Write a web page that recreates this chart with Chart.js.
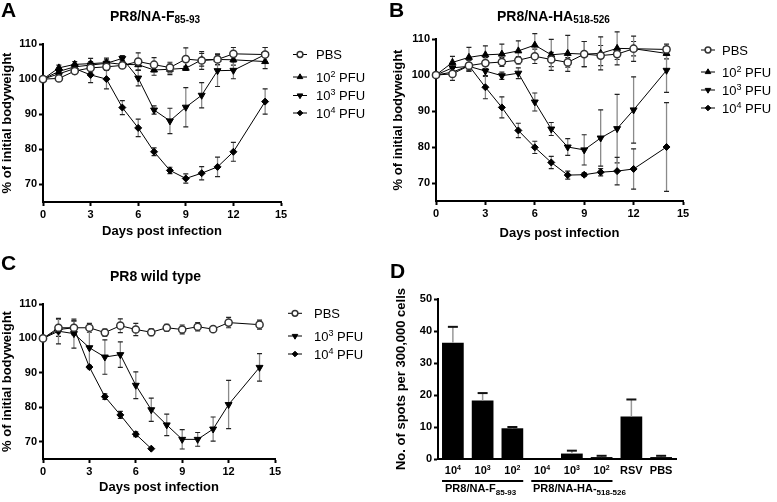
<!DOCTYPE html>
<html>
<head>
<meta charset="utf-8">
<script src="https://cdn.jsdelivr.net/npm/chart.js@4.4.0/dist/chart.umd.min.js"></script>
<style>
    body { margin: 0; background: #fff; }
    #wrap { position: relative; width: 777px; height: 502px; overflow: hidden; font-family: 'Liberation Sans', Arial, sans-serif; color: #000; }
    .panel { position: absolute; }
    .letter { position: absolute; font-size: 21px; font-weight: bold; line-height: 21px; }
    .title { position: absolute; font-size: 14px; font-weight: bold; line-height: 14px; white-space: nowrap; }
    .title sub { font-size: 10px; vertical-align: -2px; line-height: 0; }
    .group { position: absolute; font-size: 11px; font-weight: bold; line-height: 11px; white-space: nowrap; }
    .group sub { font-size: 8px; vertical-align: -3px; line-height: 0; }
</style>
</head>
<body>
<div id="wrap">
    <div class="panel" style="left:0;top:0;"><canvas id="chartA" width="388" height="250"></canvas></div>
    <div class="panel" style="left:388px;top:0;"><canvas id="chartB" width="389" height="250"></canvas></div>
    <div class="panel" style="left:0;top:250px;"><canvas id="chartC" width="388" height="252"></canvas></div>
    <div class="panel" style="left:388px;top:250px;"><canvas id="chartD" width="389" height="252"></canvas></div>

    <div class="letter" style="left:1px;top:-1px;">A</div>
    <div class="letter" style="left:389px;top:-1px;">B</div>
    <div class="letter" style="left:1px;top:252px;">C</div>
    <div class="letter" style="left:390px;top:260px;">D</div>

    <div class="title" style="left:110px;top:9px;">PR8/NA-F<sub>85-93</sub></div>
    <div class="title" style="left:497px;top:9px;">PR8/NA-HA<sub>518-526</sub></div>
    <div class="title" style="left:110px;top:269px;">PR8 wild type</div>

    <div class="group" style="left:445px;top:483px;">PR8/NA-F<sub>85-93</sub></div>
    <div class="group" style="left:533px;top:483px;">PR8/NA-HA-<sub>518-526</sub></div>
</div>

<script>
    Chart.defaults.font.family = "'Liberation Sans', Arial, sans-serif";
    Chart.defaults.color = '#000';

    // dagen na infectie
    const days = [0, 1, 2, 3, 4, 5, 6, 7, 8, 9, 10, 11, 12, 14];
    const xTicks = [0, 3, 6, 9, 12, 15];
    const yTicks = [70, 80, 90, 100, 110];

    // A: PR8/NA-F85-93
    const aPBS = [100, 100.2, 102.3, 103.2, 103.5, 103.9, 105.0, 104.1, 103.3, 105.7, 105.3, 105.6, 107.2, 107.0];
    const aPBSErr = [0, 0.8, 0.8, 1.2, 1.0, 0.6, 2.5, 2.0, 1.5, 3.2, 2.5, 1.5, 1.8, 2.0];
    const a102 = [100, 103.2, 104.2, 104.4, 104.7, 104.2, 104.1, 102.6, 102.8, 103.1, 105.5, 105.6, 105.5, 105.0];
    const a102Err = [0, 0.8, 0.8, 1.5, 1.3, 1.0, 1.5, 1.5, 1.5, 0.5, 1.8, 1.5, 1.5, 2.0];
    const a103 = [100, 102.2, 103.5, 104.0, 104.5, 105.9, 100.3, 91.2, 88.1, 92.0, 95.4, 102.4, 102.5, 107.0];
    const a103Err = [0, 1.0, 0.8, 1.0, 1.0, 0.8, 2.2, 1.2, 3.6, 5.6, 3.6, 4.5, 2.4, 2.0];
    const a104 = [100, 101.5, 103.0, 101.2, 100.0, 91.9, 86.1, 79.3, 74.0, 71.7, 73.2, 75.0, 79.3, 93.6];
    const a104Err = [0, 1.0, 1.0, 2.2, 2.8, 2.0, 2.5, 1.1, 0.9, 1.3, 1.9, 2.8, 2.7, 3.6];

    // B: PR8/NA-HA518-526
    const bPBS = [100, 100.3, 102.6, 103.3, 103.6, 104.1, 105.2, 104.3, 103.5, 105.8, 105.4, 105.8, 107.3, 107.1];
    const bPBSErr = [0, 1.8, 1.5, 1.5, 1.2, 1.0, 2.0, 2.0, 1.3, 3.5, 2.8, 1.5, 2.0, 1.5];
    const b102 = [100, 103.5, 104.9, 105.6, 105.8, 106.7, 108.3, 105.6, 106.0, 105.8, 106.0, 107.4, 107.3, 106.0];
    const b102Err = [0, 1.7, 2.8, 2.5, 2.8, 2.8, 3.2, 4.3, 5.0, 3.5, 4.6, 4.6, 3.5, 1.5];
    const b103 = [100, 102.0, 102.4, 101.1, 99.8, 100.5, 92.5, 85.0, 80.0, 79.2, 82.5, 85.1, 90.3, 101.3];
    const b103Err = [0, 1.0, 1.0, 1.5, 1.0, 1.5, 2.5, 1.8, 2.3, 4.2, 7.8, 9.5, 9.2, 6.1];
    const b104 = [100, 100.8, 102.6, 96.6, 91.0, 84.6, 79.9, 75.7, 72.2, 72.3, 73.0, 73.3, 73.9, 80.0];
    const b104Err = [0, 1.2, 1.5, 3.2, 2.9, 2.0, 1.7, 1.7, 1.1, 0.5, 1.0, 3.8, 5.6, 12.3];

    // C: PR8 wild type
    const cPBS = [100, 103.1, 103.1, 103.1, 101.7, 103.7, 102.6, 101.8, 103.1, 102.6, 103.4, 102.7, 104.6, 104.0];
    const cPBSErr = [0, 2.5, 2.0, 1.3, 1.0, 2.0, 1.8, 1.0, 1.0, 1.3, 1.2, 0.5, 1.5, 1.3];
    const c103 = [100, 102.1, 101.4, 97.3, 94.6, 95.3, 86.4, 79.3, 74.9, 70.7, 70.7, 73.7, 80.8, 91.6];
    const c103Err = [0, 3.7, 4.2, 5.3, 5.0, 3.7, 3.9, 3.4, 3.1, 2.8, 2.0, 3.5, 7.0, 4.0];
    const c104 = [100, 102.6, 103.1, 91.7, 83.1, 77.8, 72.2, 68.0];
    const c104Err = [0, 1.0, 2.0, 0.5, 0.8, 1.0, 0.7, 0];

    // D: ELISPOT
    const spotLabels = ['10⁴', '10³', '10²', '10⁴', '10³', '10²', 'RSV', 'PBS'];
    const spotValues = [36.3, 18.3, 9.6, 0, 1.7, 0.6, 13.3, 0.6];
    const spotErrors = [5.0, 2.3, 0.4, 0, 0.9, 0.4, 5.3, 0.4];
    const spotTicks = [0, 10, 20, 30, 40, 50];
    const spotGroups = [[0, 2], [3, 5]];

    const markers = {
        'PBS': { pointStyle: 'circle', rotation: 0, radius: 3.6, bg: '#fff', border: '#333', bw: 1.5 },
        '10² PFU': { pointStyle: 'triangle', rotation: 0, radius: 4, bg: '#000', border: '#000', bw: 1 },
        '10³ PFU': { pointStyle: 'triangle', rotation: 180, radius: 4, bg: '#000', border: '#000', bw: 1 },
        '10⁴ PFU': { pointStyle: 'rectRot', rotation: 0, radius: 3.5, bg: '#000', border: '#000', bw: 1 }
    };

    const FONT = "'Liberation Sans', Arial, sans-serif";
    const supMap = { '²': '2', '³': '3', '⁴': '4' };

    //tekst met superscript tekenen
    function drawRich(ctx, text, x, y, size, weight, align) {
        let runs = [];
        for (const ch of text) {
            let sup = supMap[ch] !== undefined;
            let c = sup ? supMap[ch] : ch;
            if (runs.length && runs[runs.length - 1].sup === sup) runs[runs.length - 1].t += c;
            else runs.push({ t: c, sup: sup });
        }
        let fontFor = sup => weight + ' ' + (sup ? Math.round(size * 0.68) : size) + 'px ' + FONT;
        let total = 0;
        runs.forEach(r => { ctx.font = fontFor(r.sup); r.w = ctx.measureText(r.t).width; total += r.w; });
        let cx = align === 'center' ? x - total / 2 : x;
        ctx.textAlign = 'left';
        ctx.textBaseline = 'alphabetic';
        ctx.fillStyle = '#000';
        runs.forEach(r => {
            ctx.font = fontFor(r.sup);
            ctx.fillText(r.t, cx, r.sup ? y - size * 0.4 : y);
            cx += r.w;
        });
    }

    function ownPoint(ctx, m, x, y, radius) {
        ctx.fillStyle = m.bg;
        ctx.strokeStyle = m.border;
        ctx.lineWidth = m.bw;
        if (Chart.helpers && Chart.helpers.drawPoint) {
            Chart.helpers.drawPoint(ctx, { pointStyle: m.pointStyle, rotation: m.rotation, radius: radius, borderWidth: m.bw }, x, y);
        } else {
            ctx.beginPath();
            ctx.arc(x, y, radius, 0, Math.PI * 2);
            ctx.fill();
            ctx.stroke();
        }
    }

    //error bars voor de lijngrafieken
    const lineErrorPlugin = {
        id: 'lineErrors',
        beforeDatasetsDraw(chart) {
            let ctx = chart.ctx;
            let yScale = chart.scales.y;
            ctx.save();
            chart.data.datasets.forEach((ds, i) => {
                let meta = chart.getDatasetMeta(i);
                ds.data.forEach((p, j) => {
                    let e = ds.errors[j];
                    if (!e) return;
                    let x = meta.data[j].x;
                    let yTop = yScale.getPixelForValue(p.y + e);
                    let yBot = yScale.getPixelForValue(p.y - e);
                    ctx.strokeStyle = '#8a8a8a';
                    ctx.lineWidth = 1.3;
                    ctx.beginPath();
                    ctx.moveTo(x, yTop);
                    ctx.lineTo(x, yBot);
                    ctx.stroke();
                    ctx.strokeStyle = '#222';
                    ctx.lineWidth = 1.2;
                    ctx.beginPath();
                    ctx.moveTo(x - 2.5, yTop);
                    ctx.lineTo(x + 2.5, yTop);
                    ctx.moveTo(x - 2.5, yBot);
                    ctx.lineTo(x + 2.5, yBot);
                    ctx.stroke();
                });
            });
            ctx.restore();
        }
    };

    function legendPlugin(L) {
        return {
            id: 'sideLegend',
            afterDraw(chart) {
                let ctx = chart.ctx;
                ctx.save();
                chart.data.datasets.forEach((ds, i) => {
                    let y = L.rows[i];
                    let m = markers[ds.label];
                    ctx.strokeStyle = '#000';
                    ctx.lineWidth = 1;
                    ctx.beginPath();
                    ctx.moveTo(L.markerX - 7, y);
                    ctx.lineTo(L.markerX + 7, y);
                    ctx.stroke();
                    ownPoint(ctx, m, L.markerX, y, m.radius * 0.8);
                    drawRich(ctx, ds.label, L.textX, y + 4.7, 13, 'normal', 'left');
                });
                ctx.restore();
            }
        };
    }

    function makeWeightChart(id, sets, L) {
        let datasets = sets.map(s => {
            let m = markers[s.label];
            return {
                label: s.label,
                data: s.values.map((v, i) => ({ x: days[i], y: v })),
                errors: s.errors,
                borderColor: '#000',
                borderWidth: 1,
                tension: 0,
                clip: false,
                pointStyle: m.pointStyle,
                pointRotation: m.rotation,
                pointRadius: m.radius,
                pointBackgroundColor: m.bg,
                pointBorderColor: m.border,
                pointBorderWidth: m.bw
            };
        });

        return new Chart(document.getElementById(id), {
            type: 'line',
            data: { datasets: datasets },
            options: {
                responsive: false,
                animation: false,
                layout: { padding: { left: 0, top: L.top, right: L.right, bottom: 0 } },
                plugins: { legend: { display: false }, tooltip: { enabled: false } },
                scales: {
                    x: {
                        type: 'linear',
                        min: 0,
                        max: 15,
                        afterBuildTicks: ax => { ax.ticks = xTicks.map(v => ({ value: v })); },
                        afterFit: sc => { sc.height = L.xHeight; },
                        grid: { display: true, drawOnChartArea: false, drawTicks: true, tickLength: 4, tickWidth: 2, tickColor: '#000' },
                        border: { display: true, color: '#000', width: 2 },
                        ticks: { font: { size: 11, weight: 'bold' }, padding: 2, maxRotation: 0, autoSkip: false },
                        title: { display: true, text: 'Days post infection', font: { size: 13, weight: 'bold' }, padding: { top: 0, bottom: L.xTitlePad } }
                    },
                    y: {
                        type: 'linear',
                        min: 65,
                        max: 110,
                        afterBuildTicks: ax => { ax.ticks = yTicks.map(v => ({ value: v })); },
                        afterFit: sc => { sc.width = L.yWidth; },
                        grid: { display: true, drawOnChartArea: false, drawTicks: true, tickLength: 4, tickWidth: 2, tickColor: '#000' },
                        border: { display: true, color: '#000', width: 2 },
                        ticks: { font: { size: 11, weight: 'bold' }, padding: 2 },
                        title: { display: true, text: '% of initial bodyweight', font: { size: 13, weight: 'bold' }, padding: { top: L.yTitlePad, bottom: 0 } }
                    }
                }
            },
            plugins: [lineErrorPlugin, legendPlugin(L)]
        });
    }

    makeWeightChart('chartA', [
        { label: 'PBS', values: aPBS, errors: aPBSErr },
        { label: '10² PFU', values: a102, errors: a102Err },
        { label: '10³ PFU', values: a103, errors: a103Err },
        { label: '10⁴ PFU', values: a104, errors: a104Err }
    ], { top: 44, right: 107, yWidth: 43, xHeight: 48, yTitlePad: 0, xTitlePad: 11, markerX: 300, textX: 316, rows: [54.5, 77, 95.5, 113] });

    makeWeightChart('chartB', [
        { label: 'PBS', values: bPBS, errors: bPBSErr },
        { label: '10² PFU', values: b102, errors: b102Err },
        { label: '10³ PFU', values: b103, errors: b103Err },
        { label: '10⁴ PFU', values: b104, errors: b104Err }
    ], { top: 39, right: 94, yWidth: 48, xHeight: 49, yTitlePad: 2.5, xTitlePad: 9, markerX: 320, textX: 334, rows: [50, 72, 90, 108] });

    makeWeightChart('chartC', [
        { label: 'PBS', values: cPBS, errors: cPBSErr },
        { label: '10³ PFU', values: c103, errors: c103Err },
        { label: '10⁴ PFU', values: c104, errors: c104Err }
    ], { top: 54, right: 113, yWidth: 43, xHeight: 43, yTitlePad: 0, xTitlePad: 7, markerX: 295, textX: 314, rows: [63.3, 86, 104] });

    //staafgrafiek D
    const barExtrasPlugin = {
        id: 'barExtras',
        afterDatasetsDraw(chart) {
            let ctx = chart.ctx;
            let yScale = chart.scales.y;
            let xScale = chart.scales.x;
            let meta = chart.getDatasetMeta(0);
            let ds = chart.data.datasets[0];
            ctx.save();
            ds.data.forEach((v, i) => {
                let e = ds.errors[i];
                if (!e) return;
                let x = meta.data[i].x;
                let y0 = yScale.getPixelForValue(v);
                let y1 = yScale.getPixelForValue(v + e);
                ctx.strokeStyle = '#999';
                ctx.lineWidth = 1.5;
                ctx.beginPath();
                ctx.moveTo(x, y0);
                ctx.lineTo(x, y1);
                ctx.stroke();
                ctx.strokeStyle = '#111';
                ctx.lineWidth = 2;
                ctx.beginPath();
                ctx.moveTo(x - 5, y1);
                ctx.lineTo(x + 5, y1);
                ctx.stroke();
            });
            // categorie labels
            chart.data.labels.forEach((lab, i) => {
                drawRich(ctx, lab, xScale.getPixelForValue(i), xScale.top + 15, 11, 'bold', 'center');
            });
            // groepslijnen
            ctx.strokeStyle = '#000';
            ctx.lineWidth = 2;
            spotGroups.forEach(g => {
                let a = meta.data[g[0]];
                let b = meta.data[g[1]];
                ctx.beginPath();
                ctx.moveTo(a.x - a.width / 2, 231);
                ctx.lineTo(b.x + b.width / 2, 231);
                ctx.stroke();
            });
            ctx.restore();
        }
    };

    new Chart(document.getElementById('chartD'), {
        type: 'bar',
        data: {
            labels: spotLabels,
            datasets: [{
                data: spotValues,
                errors: spotErrors,
                backgroundColor: '#000',
                borderWidth: 0,
                barPercentage: 0.73,
                categoryPercentage: 1
            }]
        },
        options: {
            responsive: false,
            animation: false,
            layout: { padding: { left: 0, top: 49, right: 101, bottom: 0 } },
            plugins: { legend: { display: false }, tooltip: { enabled: false } },
            scales: {
                x: {
                    afterFit: sc => { sc.height = 43; },
                    grid: { display: true, drawOnChartArea: false, drawTicks: false },
                    border: { display: true, color: '#000', width: 2 },
                    ticks: { display: false }
                },
                y: {
                    min: 0,
                    max: 50,
                    afterBuildTicks: ax => { ax.ticks = spotTicks.map(v => ({ value: v })); },
                    afterFit: sc => { sc.width = 50; },
                    grid: { display: true, drawOnChartArea: false, drawTicks: true, tickLength: 4, tickWidth: 2, tickColor: '#000' },
                    border: { display: true, color: '#000', width: 2 },
                    ticks: { font: { size: 11, weight: 'bold' }, padding: 2 },
                    title: { display: true, text: 'No. of spots per 300,000 cells', font: { size: 13, weight: 'bold' }, padding: { top: 6, bottom: 0 } }
                }
            }
        },
        plugins: [barExtrasPlugin]
    });
</script>
</body>
</html>
